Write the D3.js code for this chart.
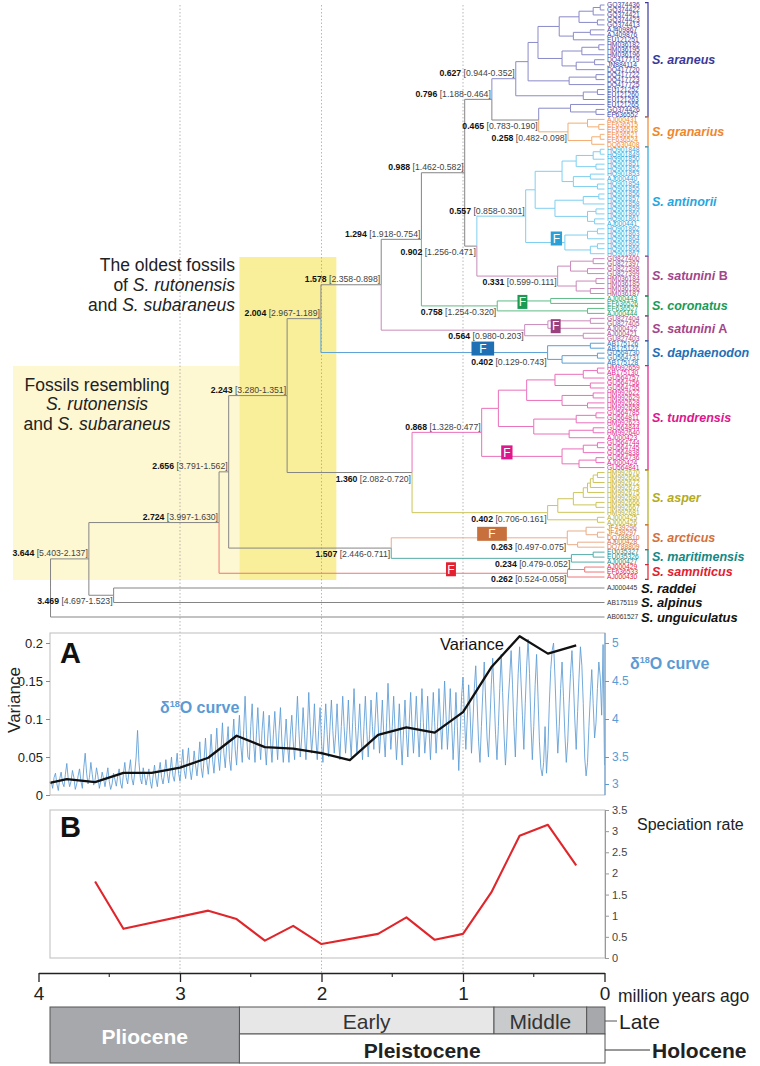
<!DOCTYPE html>
<html><head><meta charset="utf-8">
<script src="https://cdn.jsdelivr.net/npm/d3@7"></script>
<style>
html,body{margin:0;padding:0;background:#fff;}
svg{display:block;font-family:"Liberation Sans",Arial,Helvetica,sans-serif;}
</style></head><body>
<svg id="chart" width="760" height="1066"></svg>
<script>
// ---------------- DATA ----------------
// Tree clades (newick, internal nodes carry age in Myr, optional |id)
const araneusTree = "(((" +
  "((((GQ374436,GQ374422)0.03,GQ374421)0.08,(GQ374423,GQ374413)0.05)0.18,((AJ409867,AJ409876)0.1,EU121251)0.22)0.32," +
  "(((HM036182,HM036195)0.04,HM036196)0.16,((DQ417719,JN884114)0.07,DQ417720)0.2)0.3)0.47," +
  "((DQ417722,DQ417723)0.06,DQ417725)0.25)0.54," +
  "((EU121252,EU121260)0.05,EU121263)0.15)0.627|araneus";
const araneusSubTree = "(EU121265,(GQ374426,EF636552)0.06)0.24|araneusSub";
const granariusTree = "((AJ000431,(EF636515,EF636518)0.04)0.12,((EF636521,EF636524)0.03,DQ630408)0.09)0.258|granarius";
const antinoriiTree = "((" +
  "((((HQ901848,HQ901849)0.03,HQ901850)0.08,(HQ901851,HQ901852)0.06)0.2,((HQ901853,AJ000440)0.1,(HQ901854,HQ901855)0.05)0.22)0.3," +
  "(((HQ901856,HQ901857)0.04,HQ901858)0.15,((HQ901859,HQ901860)0.06,(HQ901861,AJ000441)0.07)0.12)0.35)0.49," +
  "(((HQ901862,HQ901863)0.05,HQ901864)0.12,((HQ901865,HQ901866)0.05,HQ901867)0.1)0.28|an3)0.557|antinorii";
const satuniniBTree = "(((GU827400,GU827397)0.08,(GU827398,GU827399)0.12)0.24,((HM036184,HM036185)0.06,(HM036186,HM036187)0.1)0.2)0.331|satB";
const coronatusTree = "((AJ000443,EF636526)0.38,(EF636527,AJ000444)0.12)0.758|coronatus";
const satuniniATree = "(((GU827404,GU827405)0.1,AJ000422)0.4,(AJ000421,GU827403)0.15)0.564|satA";
const daphaenodonTree = "((AB175126,AB175127)0.1,((GU564730,GU564731)0.05,AB175128)0.3)0.402|daph";
const tundrensisTree = "((" +
  "((((HM992659,AB175130)0.05,GU564757)0.15,(GU564756,GU564755)0.1)0.35,((HM992622,HM992629)0.08,(HM992628,HM992658)0.12)0.3)0.55," +
  "(((GU564785,GU564811)0.06,HM992623)0.2,((GU564844,HM992640)0.08,AJ000423)0.25)0.5)0.75," +
  "(((GU564744,GU564745)0.05,GU564838)0.15,((GU564736,AJ000424)0.06,GU564841)0.18)0.3|tu2b)0.868|tundrensis";
const asperTree = "((((((((HM992670,HM992665)0.05,HM992672)0.08,HM992673)0.1,HM992675)0.12,HM992680)0.15,(HM992666,HM992667)0.06)0.22,HM992681)0.33,(AJ000425,AJ000426)0.05)0.402|asper";
const arcticusTree = "((JF439296,(JF439297,DQ788810)0.05)0.13,(AJ000428,DQ788809)0.19)0.263|arcticus";
const maritimensisTree = "((EU035327,EU035326)0.08,AJ000427)0.234|maritimensis";
const samniticusTree = "((AJ000429,EF636533)0.14,AJ000430)0.262|samniticus";
const backboneTree = "((((((((((" +
  "{araneus},({araneusSub},{granarius})0.465|n0465)0.796|n0796," +
  "({antinorii},{satB})0.902|n0902)0.988|n0988," +
  "{coronatus})1.294|n1294,{satA})1.578|n1578,{daph})2.004|n2004," +
  "({tundrensis},{asper})1.360|n1360)2.243|n2243," +
  "({arcticus},{maritimensis})1.507|n1507)2.656|n2656," +
  "{samniticus})2.724|n2724,(AJ000445,AB175119)3.469|n3469)3.644|n3644,AB061527)3.915|root";

// labelled node ages: ids and HPD intervals
const labelNodeIds = ["araneus","n0796","n0465","granarius","n0988","antinorii","n0902","satB","n1294","coronatus","n1578","satA","n2004","daph","n2243","tundrensis","n1360","asper","n2656","n1507","arcticus","maritimensis","n2724","samniticus","n3644","n3469"];
const labelHPD = ["0.944-0.352","1.188-0.464","0.783-0.190","0.482-0.098","1.462-0.582","0.858-0.301","1.256-0.471","0.599-0.111","1.918-0.754","1.254-0.320","2.358-0.898","0.980-0.203","2.967-1.189","0.129-0.743","3.280-1.351","1.328-0.477","2.082-0.720","0.706-0.161","3.791-1.562","2.446-0.711","0.497-0.075","0.479-0.052","3.997-1.630","0.524-0.058","5.403-2.137","4.697-1.523"];
const labelBelow = ["n0465","granarius","n0902","satB","coronatus","satA","daph","n1360","asper","n1507","arcticus","maritimensis","samniticus","n3469"];

// species
const speciesIds = ["araneus","granarius","antinorii","satB","coronatus","satA","daph","tundrensis","asper","arcticus","maritimensis","samniticus"];
const speciesNames = ["S. araneus","S. granarius","S. antinorii","S. satunini","S. coronatus","S. satunini","S. daphaenodon","S. tundrensis","S. asper","S. arcticus","S. maritimensis","S. samniticus"];
const speciesSuffix = ["","",""," B",""," A","","","","","",""];
const outgroupTips = ["AJ000445","AB175119","AB061527"];
const outgroupNames = ["S. raddei","S. alpinus","S. unguiculatus"];

// fossil records (F boxes)
const fossilNode = ["an3","coronatus","satA","daph","tu2b","arcticus","samniticus"];
const fossilSpecies = ["antinorii","coronatus","satA","daph","tundrensis","arcticus","samniticus"];
const fossilFrom = [0.38,0.615,0.38,0.94,0.73,0.90,1.12];
const fossilTo = [0.30,0.545,0.31,0.78,0.65,0.69,1.05];

// Panel A: variance
const varTimes = [3.92,3.8,3.6,3.4,3.2,3.0,2.8,2.6,2.4,2.2,2.0,1.8,1.6,1.4,1.2,1.0,0.8,0.6,0.4,0.2];
const varValues = [0.016,0.021,0.017,0.029,0.029,0.036,0.049,0.078,0.063,0.061,0.055,0.046,0.079,0.089,0.082,0.109,0.168,0.209,0.186,0.197];
// Panel A: d18O curve, samples every 0.01 Myr from 3.91 Ma to 0 Ma
const d18oStart = 3.91, d18oStep = 0.01;
const d18oValues = [
3.05,2.92,3.12,3.20,3.00,2.88,3.10,3.22,3.02,2.95,
3.18,3.38,3.10,2.95,3.05,3.25,3.12,2.90,3.00,3.15,
3.28,3.05,2.92,3.30,3.55,3.20,3.00,3.12,3.40,3.18,
2.98,3.08,3.30,3.15,2.92,3.05,3.22,3.10,2.95,3.12,
3.30,3.05,2.90,3.00,3.20,3.08,2.96,3.15,3.28,3.02,
2.92,3.18,3.40,3.12,3.00,3.25,3.45,3.10,2.98,3.20,
3.50,3.85,3.40,3.10,3.00,3.30,3.15,2.98,3.12,3.28,
3.05,2.92,3.15,3.35,3.10,2.95,3.22,3.40,3.12,3.00,
3.18,3.45,3.20,3.02,3.25,3.50,3.15,3.05,3.30,3.55,
3.20,3.05,3.35,3.60,3.25,3.10,3.40,3.62,3.28,3.08,
3.30,3.58,3.35,3.15,3.42,3.70,3.30,3.12,3.45,3.75,
3.40,3.18,3.50,3.80,3.45,3.20,3.55,3.88,3.50,3.25,
3.60,3.95,3.55,3.30,3.65,3.90,3.45,3.25,3.70,4.00,
3.60,3.35,3.75,4.05,3.65,3.40,3.85,4.30,3.80,3.50,
3.45,3.90,4.20,3.70,3.40,3.80,4.15,3.75,3.45,3.85,
4.10,3.65,3.35,3.75,4.05,3.70,3.40,3.80,4.10,3.75,
3.45,3.85,4.15,3.70,3.40,3.70,4.00,3.65,3.40,3.80,
4.05,3.70,3.45,3.90,4.30,3.85,3.50,3.75,4.15,3.80,
3.45,3.85,4.35,3.90,3.55,3.80,4.20,3.75,3.45,3.85,
4.15,3.70,3.40,3.85,4.20,3.80,3.50,3.90,4.25,3.85,
3.55,3.80,4.20,3.75,3.45,3.90,4.30,3.90,3.55,3.85,
4.25,3.80,3.50,3.95,4.40,3.90,3.55,3.85,4.20,3.75,
3.45,3.90,4.30,3.85,3.50,3.80,4.25,3.90,3.60,4.00,
4.35,3.95,3.55,3.85,4.25,3.80,3.50,3.95,4.47,4.00,
3.60,3.90,4.30,3.85,3.45,3.80,4.20,3.75,3.35,3.85,
4.25,3.80,3.50,3.95,4.35,3.90,3.55,3.90,4.30,3.85,
3.50,3.95,4.40,3.95,3.55,3.80,4.30,3.85,3.45,3.90,
4.35,3.95,3.55,3.90,4.40,4.00,3.60,4.00,4.50,4.05,
3.60,3.95,4.40,3.95,3.45,3.85,4.35,3.90,3.25,3.80,
4.30,4.55,4.05,3.60,4.00,4.45,4.10,3.55,3.95,4.40,
4.70,4.20,3.70,3.40,3.90,4.35,4.75,4.25,3.75,3.50,
3.95,4.45,4.80,4.30,3.80,3.45,3.90,4.40,4.85,4.35,
3.80,3.35,3.75,4.25,4.55,4.90,4.45,3.90,3.50,4.10,
4.60,4.95,4.50,4.05,3.60,4.20,4.70,5.05,4.60,3.95,
3.45,3.90,4.45,4.85,4.30,3.70,3.30,3.15,3.40,3.90,
3.20,3.60,4.20,4.65,4.90,5.00,4.55,4.00,3.55,3.90,
4.40,4.75,4.30,3.80,3.40,3.70,4.20,4.60,4.90,4.50,
4.00,3.60,4.10,4.55,4.95,4.70,4.20,3.50,3.15,3.40,
3.90,4.30,4.65,4.20,3.75,3.95,4.40,4.75,4.55,4.05,
4.98,3.35];
const varTicks = [0,0.05,0.1,0.15,0.2];
const d18oTicks = [3,3.5,4,4.5,5];

// Panel B: speciation rate
const spTimes = [3.6,3.4,2.8,2.6,2.4,2.2,2.0,1.6,1.4,1.2,1.0,0.8,0.6,0.4,0.2];
const spValues = [1.81,0.69,1.12,0.92,0.41,0.76,0.33,0.57,0.96,0.43,0.57,1.55,2.89,3.15,2.19];
const spTicks = [0,0.5,1,1.5,2,2.5,3,3.5];

// Time axis
const timeTicks = [4,3,2,1,0];
const timeMinorTicks = [3.5,2.5,1.5,0.5];
const gridTimes = [3,2,1];

// Geological time scale
const stageNames = ["Early","Middle","Late"];
const stageFrom = [2.58,0.781,0.126];
const stageTo = [0.781,0.126,0.0117];
const epochNames = ["Pliocene","Pleistocene"];
const epochFrom = [3.915,2.58];
const epochTo = [2.58,0.0117];

// Fossil annotation zones (Myr)
const zoneResemblingFrom = 4.18, zoneResemblingTo = 2.58;
const zoneOldestFrom = 2.58, zoneOldestTo = 1.895;

// ---------------- STYLE ----------------
const lineColor = {araneus:"#8a8ac8",granarius:"#f3ad70",antinorii:"#7fcff0",satB:"#c98abb",coronatus:"#5fbb86",satA:"#c98abb",daph:"#5a9fd4",tundrensis:"#ea6fbb",asper:"#cdc55a",arcticus:"#e9ad88",maritimensis:"#55aba6",samniticus:"#ee7777"};
const textColor = {araneus:"#3a3a9a",granarius:"#f0862a",antinorii:"#27a6df",satB:"#a3458a",coronatus:"#1b9a55",satA:"#a3458a",daph:"#1f6fb6",tundrensis:"#e0168c",asper:"#b3ab1c",arcticus:"#d4703c",maritimensis:"#138884",samniticus:"#e3202d"};
const fossilColor = {antinorii:"#2aa0d6",coronatus:"#1b9a55",satA:"#9a407e",daph:"#1f6fb5",tundrensis:"#e0168c",arcticus:"#c8703c",samniticus:"#e3202d"};
const gray = "#858585";
const blue = "#5b9bd5";

// ---------------- BUILD TREE ----------------
const fullNewick = backboneTree
  .replace("{araneus}",araneusTree).replace("{araneusSub}",araneusSubTree).replace("{granarius}",granariusTree)
  .replace("{antinorii}",antinoriiTree).replace("{satB}",satuniniBTree).replace("{coronatus}",coronatusTree)
  .replace("{satA}",satuniniATree).replace("{daph}",daphaenodonTree).replace("{tundrensis}",tundrensisTree)
  .replace("{asper}",asperTree).replace("{arcticus}",arcticusTree).replace("{maritimensis}",maritimensisTree)
  .replace("{samniticus}",samniticusTree);

function parseNewick(s){
  let i=0;
  function node(){
    const n={children:[]};
    if(s[i]==="("){
      i++;
      n.children.push(node());
      while(s[i]===","){i++;n.children.push(node());}
      i++;
    }
    let tok="";
    while(i<s.length && !",()".includes(s[i])) tok+=s[i++];
    tok=tok.trim();
    if(n.children.length){const p=tok.split("|");n.age=+p[0];n.id=p[1]||null;}
    else {n.name=tok;n.age=0;}
    n.children.forEach(c=>c.parent=n);
    return n;
  }
  return node();
}
const root = parseNewick(fullNewick);
const speciesOf = {araneusSub:"araneus"};
speciesIds.forEach(s=>speciesOf[s]=s);
const tips=[], nodes=[], byId={};
(function walk(n,sp){
  if(n.id && speciesOf[n.id]) sp=speciesOf[n.id];
  n.species=sp; nodes.push(n); if(n.id) byId[n.id]=n;
  if(!n.children.length) tips.push(n); else n.children.forEach(c=>walk(c,sp));
})(root,null);

const xT = d3.scaleLinear().domain([4,0]).range([38.5,604.5]);
const inTips = tips.filter(t=>!outgroupTips.includes(t.name));
const yIn = d3.scaleLinear().domain([0,inTips.length-1]).range([5,577]);
const yOut = d3.scaleLinear().domain([0,outgroupTips.length-1]).range([588,617]);
inTips.forEach((t,i)=>t.y=yIn(i));
outgroupTips.forEach((nm,j)=>{tips.find(t=>t.name===nm).y=yOut(j);});
(function lay(n){
  n.x=xT(n.age);
  if(n.children.length){n.children.forEach(lay);n.y=(n.children[0].y+n.children[n.children.length-1].y)/2;}
})(root);

// ---------------- DRAW ----------------
const svg = d3.select("#chart");

// fossil zones
svg.append("rect").attr("x",xT(zoneResemblingFrom)).attr("y",366).attr("width",xT(zoneResemblingTo)-xT(zoneResemblingFrom)).attr("height",214).attr("fill","#fdf7d2");
svg.append("rect").attr("x",xT(zoneOldestFrom)).attr("y",257).attr("width",xT(zoneOldestTo)-xT(zoneOldestFrom)).attr("height",323).attr("fill","#f9ef9a");

// dotted grid
svg.append("g").selectAll("line").data(gridTimes).join("line")
  .attr("x1",d=>xT(d)).attr("x2",d=>xT(d)).attr("y1",5).attr("y2",973)
  .attr("stroke","#9a9a9a").attr("stroke-width",0.7).attr("stroke-dasharray","1.5,2");

// annotations
const annot = svg.append("g").attr("fill","#222").attr("font-size",17.5);
const a1 = annot.append("text").attr("text-anchor","end").attr("x",235);
a1.append("tspan").attr("x",235).attr("y",271).text("The oldest fossils");
const a1b=a1.append("tspan").attr("x",235).attr("y",291); a1b.append("tspan").text("of "); a1b.append("tspan").attr("font-style","italic").text("S. rutonensis");
const a1c=a1.append("tspan").attr("x",235).attr("y",311); a1c.append("tspan").text("and "); a1c.append("tspan").attr("font-style","italic").text("S. subaraneus");
const a2 = annot.append("text").attr("text-anchor","middle");
a2.append("tspan").attr("x",97).attr("y",391).text("Fossils resembling");
a2.append("tspan").attr("x",97).attr("y",410).attr("font-style","italic").text("S. rutonensis");
const a2c=a2.append("tspan").attr("x",97).attr("y",430); a2c.append("tspan").text("and "); a2c.append("tspan").attr("font-style","italic").text("S. subaraneus");

// branches
const edges = nodes.filter(n=>n.parent);
svg.append("g").attr("fill","none").attr("stroke-width",1).selectAll("path").data(edges).join("path")
  .attr("d",n=>`M${n.parent.x},${n.parent.y}V${n.y}H${n.x}`)
  .attr("stroke",n=>n.species?lineColor[n.species]:gray);

// tip labels
svg.append("g").attr("font-size",6.7).selectAll("text").data(tips).join("text")
  .attr("x",xT(0)+2.5).attr("y",t=>t.y+2.3)
  .attr("fill",t=>t.species?textColor[t.species]:"#333").text(t=>t.name);

// brackets + species labels
speciesIds.forEach((sp,k)=>{
  const ys = tips.filter(t=>t.species===sp).map(t=>t.y);
  const y0=d3.min(ys)-2.4, y1=d3.max(ys)+2.4;
  svg.append("path").attr("d",`M645,${y0}H648V${y1}H645`).attr("fill","none").attr("stroke",textColor[sp]).attr("stroke-width",1.2);
  const t=svg.append("text").attr("x",652).attr("y",(y0+y1)/2+4.3).attr("font-size",12.5).attr("font-weight","bold").attr("fill",textColor[sp]);
  t.append("tspan").attr("font-style","italic").text(speciesNames[k]);
  if(speciesSuffix[k]) t.append("tspan").text(speciesSuffix[k]);
});
outgroupTips.forEach((nm,j)=>{
  const t=tips.find(tt=>tt.name===nm);
  svg.append("text").attr("x",641).attr("y",t.y+4.5).attr("font-size",13).attr("font-weight","bold").attr("font-style","italic").attr("fill","#111").text(outgroupNames[j]);
});

// fossil boxes geometry (box sits on / just above the branch)
const fossilBoxes = fossilNode.map((id,k)=>{
  const n=byId[id];
  return {n, x0:xT(fossilFrom[k]), x1:xT(fossilTo[k]), y0:n.y-11, y1:n.y+3, color:fossilColor[fossilSpecies[k]]};
});

// node labels
labelNodeIds.forEach((id,k)=>{
  const n=byId[id]; const below=labelBelow.includes(id);
  const lx0=n.x-80;
  const hitsBox = fossilBoxes.some(b=>b.n===n && b.x1>lx0 && b.x0<n.x);
  const t=svg.append("text").attr("x",n.x-1).attr("y",below?n.y+(hitsBox?12:9):n.y-2.5).attr("text-anchor","end").attr("font-size",8.7);
  t.append("tspan").attr("font-weight","bold").attr("fill","#111").text(n.age.toFixed(3));
  t.append("tspan").attr("fill","#444").text(" ["+labelHPD[k]+"]");
});

// fossil boxes
fossilBoxes.forEach(b=>{
  svg.append("rect").attr("x",b.x0).attr("y",b.y0).attr("width",b.x1-b.x0).attr("height",b.y1-b.y0).attr("fill",b.color);
  svg.append("text").attr("x",(b.x0+b.x1)/2).attr("y",b.y1-2.7).attr("text-anchor","middle").attr("font-size",12).attr("fill","#fff").text("F");
});

// ---------------- PANEL A ----------------
const pL=50, pR=605, aT=633, aB=795;
const yVar = d3.scaleLinear().domain([0,0.2]).range([795,643]);
const yD = d3.scaleLinear().domain([3,3.5,4,4.5,5]).range([784,757,719,681,643]);
svg.append("defs").append("clipPath").attr("id","clipA").append("rect").attr("x",pL).attr("y",aT).attr("width",pR-pL).attr("height",aB-aT);
const d18o = d18oValues.map((v,i)=>({t:d18oStart-i*d18oStep,v}));
svg.append("path").datum(d18o).attr("clip-path","url(#clipA)").attr("fill","none").attr("stroke",blue).attr("stroke-width",0.85)
  .attr("d",d3.line().x(d=>xT(d.t)).y(d=>yD(d.v)));
svg.append("path").datum(varTimes.map((t,i)=>({t,v:varValues[i]}))).attr("fill","none").attr("stroke","#111").attr("stroke-width",2.3).attr("stroke-linejoin","round")
  .attr("d",d3.line().x(d=>xT(d.t)).y(d=>yVar(d.v)));
svg.append("rect").attr("x",pL).attr("y",aT).attr("width",pR-pL).attr("height",aB-aT).attr("fill","none").attr("stroke","#bdbdbd");
const axL = svg.append("g").attr("transform",`translate(${pL},0)`).call(d3.axisLeft(yVar).tickValues(varTicks).tickSize(4).tickFormat(d=>String(+d.toFixed(2))));
axL.select(".domain").remove();
axL.selectAll("line").attr("stroke","#888");
axL.selectAll("text").attr("font-size",13).attr("fill","#222").attr("font-family","Liberation Sans, Arial, sans-serif");
const axR = svg.append("g").attr("transform",`translate(${pR},0)`).call(d3.axisRight(yD).tickValues(d18oTicks).tickSize(4).tickSizeOuter(0).tickFormat(d=>String(d)));
axR.select(".domain").attr("stroke",blue).attr("d",`M0,${aT}V${aB}`);
axR.selectAll("line").attr("stroke",blue);
axR.selectAll("text").attr("font-size",12).attr("fill",blue).attr("font-family","Liberation Sans, Arial, sans-serif");
svg.append("text").attr("transform","translate(20,700) rotate(-90)").attr("text-anchor","middle").attr("font-size",17).attr("fill","#222").text("Variance");
svg.append("text").attr("x",60).attr("y",663).attr("font-size",29).attr("font-weight","bold").attr("fill","#111").text("A");
svg.append("text").attr("x",504).attr("y",650).attr("text-anchor","end").attr("font-size",16.5).attr("fill","#111").text("Variance");
function d18label(x,y){
  const t=svg.append("text").attr("x",x).attr("y",y).attr("font-size",16).attr("font-weight","bold").attr("fill",blue);
  t.append("tspan").text("δ"); t.append("tspan").attr("dy",-6).attr("font-size",9).text("18"); t.append("tspan").attr("dy",6).text("O curve");
}
d18label(160,713);
d18label(630,669);

// ---------------- PANEL B ----------------
const bT=810, bB=958;
const ySp = d3.scaleLinear().domain([0,3.5]).range([bB,bT]);
svg.append("rect").attr("x",pL).attr("y",bT).attr("width",pR-pL).attr("height",bB-bT).attr("fill","none").attr("stroke","#bdbdbd");
svg.append("path").datum(spTimes.map((t,i)=>({t,v:spValues[i]}))).attr("fill","none").attr("stroke","#e0262b").attr("stroke-width",2.1).attr("stroke-linejoin","round")
  .attr("d",d3.line().x(d=>xT(d.t)).y(d=>ySp(d.v)));
const axB = svg.append("g").attr("transform",`translate(${pR},0)`).call(d3.axisRight(ySp).tickValues(spTicks).tickSize(4).tickSizeOuter(0).tickFormat(d=>String(d)));
axB.select(".domain").attr("stroke","#999");
axB.selectAll("line").attr("stroke","#999");
axB.selectAll("text").attr("font-size",11).attr("fill","#444").attr("font-family","Liberation Sans, Arial, sans-serif");
svg.append("text").attr("x",60).attr("y",837).attr("font-size",29).attr("font-weight","bold").attr("fill","#111").text("B");
svg.append("text").attr("x",637).attr("y",830).attr("font-size",16).attr("fill","#222").text("Speciation rate");

// ---------------- TIME AXIS ----------------
const axT = svg.append("g").attr("transform","translate(0,973)").call(d3.axisBottom(xT).tickValues(timeTicks).tickSize(9).tickSizeOuter(0).tickPadding(5).tickFormat(d3.format("d")));
axT.select(".domain").attr("stroke","#222").attr("stroke-width",1.3);
axT.selectAll("line").attr("stroke","#222").attr("stroke-width",1.3);
axT.selectAll("text").attr("font-size",19).attr("fill","#222").attr("font-family","Liberation Sans, Arial, sans-serif");
svg.append("g").selectAll("line").data(timeMinorTicks).join("line").attr("x1",d=>xT(d)).attr("x2",d=>xT(d)).attr("y1",973).attr("y2",977).attr("stroke","#222").attr("stroke-width",1.1);
svg.append("text").attr("x",618).attr("y",1002).attr("font-size",17.5).attr("fill","#222").text("million years ago");

// geological scale
const gT=1007, gM=1034, gB=1063;
const stageFill=["#e7e7e8","#c9cacc","#a6a8ab"];
stageNames.forEach((nm,k)=>{
  const x0=xT(stageFrom[k]), x1 = k===2? pR : xT(stageTo[k]);
  svg.append("rect").attr("x",x0).attr("y",gT).attr("width",x1-x0).attr("height",gM-gT).attr("fill",stageFill[k]).attr("stroke","#555").attr("stroke-width",1);
  if(k<2) svg.append("text").attr("x",(x0+x1)/2).attr("y",gT+22).attr("text-anchor","middle").attr("font-size",21).attr("fill","#333").text(nm);
});
epochNames.forEach((nm,k)=>{
  const x0 = k===0? pL : xT(epochFrom[k]);
  const x1 = k===1? pR : xT(epochTo[k]);
  const top = k===0? gT : gM;
  svg.append("rect").attr("x",x0).attr("y",top).attr("width",x1-x0).attr("height",gB-top).attr("fill",k===0?"#a6a8ab":"#fff").attr("stroke","#555").attr("stroke-width",1);
  svg.append("text").attr("x",(x0+x1)/2).attr("y",k===0?1044:1058).attr("text-anchor","middle").attr("font-size",21).attr("font-weight","bold").attr("fill",k===0?"#fff":"#222").text(nm);
});
svg.append("line").attr("x1",pR).attr("x2",617).attr("y1",1021).attr("y2",1021).attr("stroke","#555");
svg.append("text").attr("x",619).attr("y",1028.5).attr("font-size",21).attr("fill","#222").text("Late");
svg.append("line").attr("x1",pR).attr("x2",650).attr("y1",1050).attr("y2",1050).attr("stroke","#333");
svg.append("text").attr("x",652).attr("y",1058).attr("font-size",21).attr("font-weight","bold").attr("fill","#222").text("Holocene");
</script>
</body></html>
